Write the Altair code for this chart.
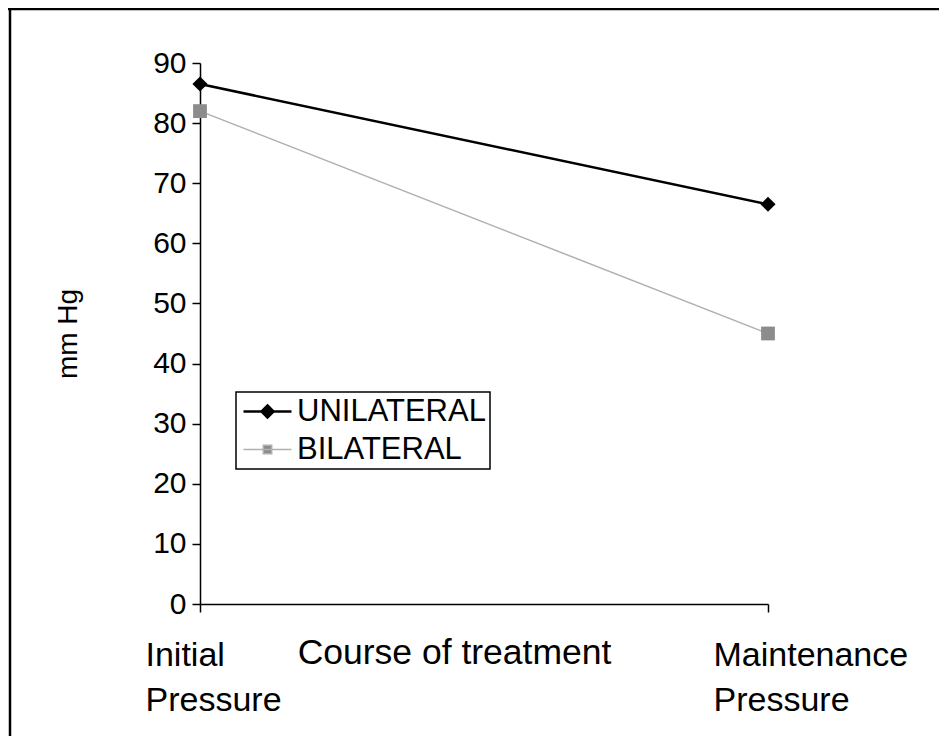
import altair as alt
import pandas as pd

stages = ["Initial Pressure", "Maintenance Pressure"]
series_names = ["UNILATERAL", "BILATERAL"]
unilateral = [86.5, 66.5]
bilateral = [82, 45]
y_ticks = [0, 10, 20, 30, 40, 50, 60, 70, 80, 90]
x_title = "Course of treatment"
y_title = "mm Hg"

rows = []
for s, vals in zip(series_names, [unilateral, bilateral]):
    for st, v in zip(stages, vals):
        rows.append({"stage": st, "series": s, "value": v})
df = pd.DataFrame(rows)

W, H = 568, 541
PL, PT = 192, 55
PR = 931 - PL - W
PB = 728 - PT - H

FONT = "Liberation Sans"

x_enc = alt.X(
    "stage:N", sort=stages,
    scale=alt.Scale(type="point", padding=0),
    axis=alt.Axis(
        title=x_title, titleFontSize=35.5, titleFontWeight="normal", titleColor="black",
        titleX=254, titleY=59, titleBaseline="alphabetic", titleAlign="center", titleAngle=0,
        labelExpr="split(datum.label, ' ')", labelAlign="left", labelOffset=-55,
        labelBaseline="alphabetic", labelPadding=53, labelLineHeight=45,
        labelFontSize=34, labelColor="black", labelOverlap=False, labelFlush=False,
        labelBound=False, labelAngle=0, labelLimit=0,
        tickSize=8, tickColor="black", tickWidth=1.5,
        domainColor="black", domainWidth=1.5, grid=False,
    ),
)
y_enc = alt.Y(
    "value:Q",
    scale=alt.Scale(domain=[0, 90], nice=False, zero=True),
    axis=alt.Axis(
        values=y_ticks, title=y_title, titleFontSize=28, titleFontWeight="normal",
        titleColor="black", titlePadding=70,
        labelFontSize=30, labelColor="black", labelPadding=6,
        tickSize=8, tickColor="black", tickWidth=1.5,
        domainColor="black", domainWidth=1.5, grid=False,
    ),
)

legend_props = dict(
    title=None, orient="none", legendX=36, legendY=329,
    strokeColor="black", padding=4, rowPadding=6,
    labelFontSize=31, labelColor="black", labelFont=FONT, labelOffset=14, labelLimit=0,
    symbolSize=576, symbolOffset=12, symbolOpacity=1,
)

stroke_scale = alt.Scale(domain=series_names, range=["#000000", "#b0b0b0"])
sw_scale = alt.Scale(domain=series_names, range=[2.5, 1.5])
color_scale = alt.Scale(domain=series_names, range=["#000000", "#8c8c8c"])
shape_scale = alt.Scale(domain=series_names, range=[
    "M-2,0L2,0M0,-0.5L0.5,0L0,0.5L-0.5,0Z",
    "M-2,0L2,0M-0.35,-0.35L0.35,-0.35L0.35,0.35L-0.35,0.35Z",
])

base = alt.Chart(df)

lines = base.mark_line().encode(
    x=x_enc, y=y_enc,
    stroke=alt.Stroke("series:N", scale=stroke_scale, legend=alt.Legend(**legend_props)),
    strokeWidth=alt.StrokeWidth("series:N", scale=sw_scale, legend=alt.Legend(**legend_props)),
)

pts_uni = base.transform_filter(alt.datum.series == series_names[0]).mark_point(
    filled=True, opacity=1, shape="diamond", size=230, color="#000000"
).encode(x=x_enc, y=y_enc)

pts_bi = base.transform_filter(alt.datum.series == series_names[1]).mark_point(
    filled=True, opacity=1, shape="square", size=190, color="#8c8c8c"
).encode(x=x_enc, y=y_enc)

legend_layer = base.mark_point(filled=True, opacity=0).encode(
    x=x_enc, y=y_enc,
    color=alt.Color("series:N", scale=color_scale, legend=alt.Legend(**legend_props)),
    shape=alt.Shape("series:N", scale=shape_scale, legend=alt.Legend(**legend_props)),
)

one = pd.DataFrame({"a": [0]})
left_border = alt.Chart(one).mark_rule(color="black", strokeWidth=2.5).encode(
    x=alt.value(-190), y=alt.value(-PT), y2=alt.value(H + PB)
)
top_border = alt.Chart(one).mark_rule(color="black", strokeWidth=2.5).encode(
    y=alt.value(-PT + 1), x=alt.value(-PL), x2=alt.value(W + PR)
)

chart = alt.layer(lines, pts_uni, pts_bi, legend_layer, left_border, top_border).properties(
    width=W, height=H,
    background="white",
    autosize=alt.AutoSizeParams(type="none"),
    padding={"left": PL, "top": PT, "right": PR, "bottom": PB},
).configure(font=FONT).configure_view(
    strokeWidth=0, stroke="transparent"
).configure_axis(grid=False).configure_legend(strokeWidth=1.5)

chart.save("out.html", embed_options={"renderer": "svg", "actions": False})
